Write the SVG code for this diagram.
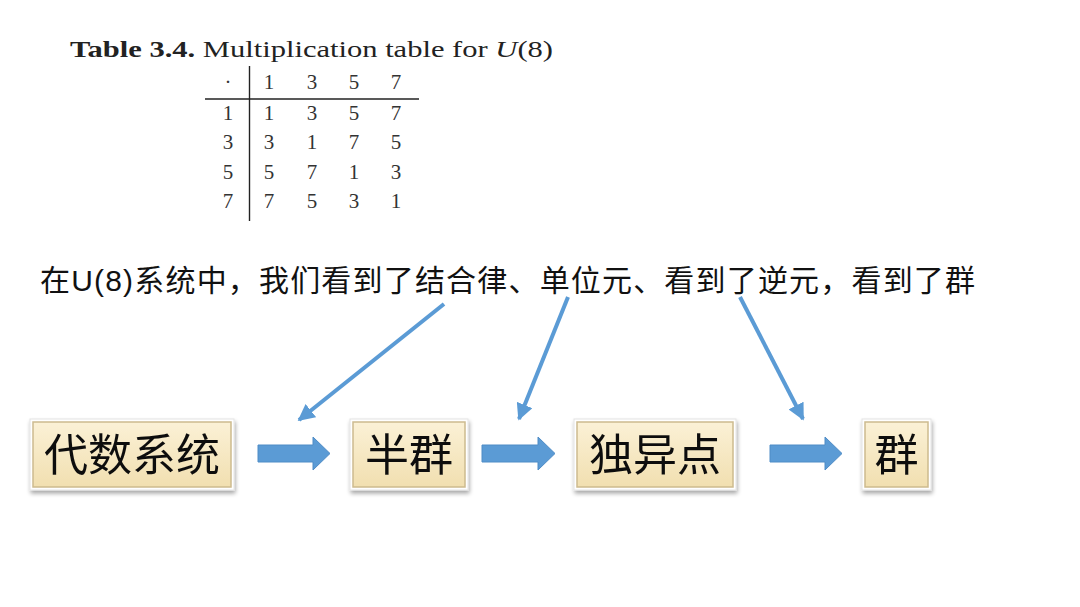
<svg xmlns="http://www.w3.org/2000/svg" width="1080" height="607" viewBox="0 0 1080 607">
<defs>
<linearGradient id="boxFill" x1="0" y1="0" x2="0" y2="1">
<stop offset="0" stop-color="#fbf1d6"/>
<stop offset="1" stop-color="#f1dfb0"/>
</linearGradient>
<filter id="shadow" x="-10%" y="-10%" width="130%" height="140%">
<feGaussianBlur in="SourceAlpha" stdDeviation="2"/>
<feOffset dx="1" dy="3" result="b"/>
<feComponentTransfer><feFuncA type="linear" slope="0.35"/></feComponentTransfer>
<feMerge><feMergeNode/><feMergeNode in="SourceGraphic"/></feMerge>
</filter>
<marker id="head" viewBox="0 0 10 10" refX="9" refY="5" markerWidth="4.2" markerHeight="4.2" orient="auto" markerUnits="strokeWidth">
<path d="M0,0 L10,5 L0,10 z" fill="#5b9bd5"/>
</marker>
</defs>
<style>
.tt{font-family:"Liberation Serif","DejaVu Serif",serif;fill:#222}
.num{font-family:"Liberation Serif","DejaVu Serif",serif;font-size:21px;fill:#333;text-anchor:middle}
.sent{font-family:"Noto Sans CJK SC","Liberation Sans",sans-serif;font-size:30px;fill:#111}
.box{fill:url(#boxFill);stroke:#cdbb8e;stroke-width:1.5}
.boxouter{fill:#ffffff;stroke:#e4e4e4;stroke-width:1}
.lbl{font-family:"Noto Sans CJK SC",sans-serif;font-size:44px;fill:#111;text-anchor:middle}
.blk{fill:#5b9bd5;stroke:#4f8cc6;stroke-width:1}
.ln{stroke:#5b9bd5;stroke-width:4;fill:none;marker-end:url(#head)}
.rule{stroke:#222;stroke-width:1.4}
</style>
<rect width="1080" height="607" fill="#ffffff"/>

<g id="table">
<text class="tt" x="70" y="57" font-size="23" textLength="483" lengthAdjust="spacingAndGlyphs"><tspan font-weight="bold">Table 3.4.</tspan> Multiplication table for <tspan font-style="italic">U</tspan>(8)</text>
<line class="rule" x1="249.5" y1="66" x2="249.5" y2="221"/>
<line class="rule" x1="205" y1="99" x2="419" y2="99"/>
<text class="num" x="228" y="89">·</text>
<text class="num" x="269" y="89">1</text>
<text class="num" x="312" y="89">3</text>
<text class="num" x="354" y="89">5</text>
<text class="num" x="396" y="89">7</text>
<text class="num" x="228" y="120">1</text>
<text class="num" x="269" y="120">1</text>
<text class="num" x="312" y="120">3</text>
<text class="num" x="354" y="120">5</text>
<text class="num" x="396" y="120">7</text>
<text class="num" x="228" y="149">3</text>
<text class="num" x="269" y="149">3</text>
<text class="num" x="312" y="149">1</text>
<text class="num" x="354" y="149">7</text>
<text class="num" x="396" y="149">5</text>
<text class="num" x="228" y="179">5</text>
<text class="num" x="269" y="179">5</text>
<text class="num" x="312" y="179">7</text>
<text class="num" x="354" y="179">1</text>
<text class="num" x="396" y="179">3</text>
<text class="num" x="228" y="208">7</text>
<text class="num" x="269" y="208">7</text>
<text class="num" x="312" y="208">5</text>
<text class="num" x="354" y="208">3</text>
<text class="num" x="396" y="208">1</text>
</g>

<g id="sentence">
<text class="sent" x="40" y="291" textLength="935" lengthAdjust="spacing">在<tspan font-family="Liberation Sans, sans-serif">U(8)</tspan>系统中，我们看到了结合律、单位元、看到了逆元，看到了群</text>
</g>

<g id="node-algebra" filter="url(#shadow)">
<rect class="boxouter" x="30" y="419" width="204" height="71"/>
<rect class="box" x="33" y="422" width="198" height="65"/>
<text class="lbl" x="132" y="471">代数系统</text>
</g>
<g id="node-semigroup" filter="url(#shadow)">
<rect class="boxouter" x="350" y="419" width="118" height="71"/>
<rect class="box" x="353" y="422" width="112" height="65"/>
<text class="lbl" x="409" y="471">半群</text>
</g>
<g id="node-monoid" filter="url(#shadow)">
<rect class="boxouter" x="574" y="419" width="162" height="71"/>
<rect class="box" x="577" y="422" width="156" height="65"/>
<text class="lbl" x="655" y="471">独异点</text>
</g>
<g id="node-group" filter="url(#shadow)">
<rect class="boxouter" x="862" y="419" width="69" height="71"/>
<rect class="box" x="865" y="422" width="63" height="65"/>
<text class="lbl" x="896.5" y="471">群</text>
</g>

<g id="connectors">
<path class="blk" d="M258,445 H313 V437 L330,453.5 L313,470 V462 H258 Z"/>
<path class="blk" d="M482,445 H538 V437 L555,453.5 L538,470 V462 H482 Z"/>
<path class="blk" d="M770,445 H825 V437 L842,453.5 L825,470 V462 H770 Z"/>
<line class="ln" x1="444" y1="304" x2="299" y2="420"/>
<line class="ln" x1="568" y1="297" x2="519" y2="419"/>
<line class="ln" x1="740" y1="297" x2="803" y2="419"/>
</g>
</svg>
